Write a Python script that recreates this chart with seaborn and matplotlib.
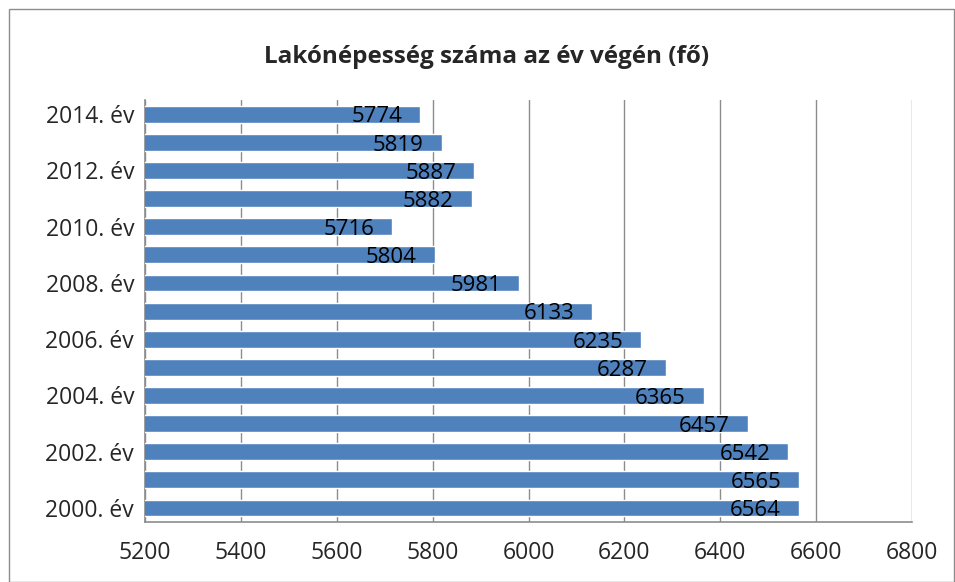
import pandas as pd
import matplotlib.pyplot as plt
import seaborn as sns
from matplotlib.patches import Rectangle

years = ['2014. év', '2013. év', '2012. év', '2011. év', '2010. év', '2009. év', '2008. év',
         '2007. év', '2006. év', '2005. év', '2004. év', '2003. év', '2002. év', '2001. év', '2000. év']
population = [5774, 5819, 5887, 5882, 5716, 5804, 5981, 6133, 6235, 6287, 6365, 6457, 6542, 6565, 6564]
x_ticks = [5200, 5400, 5600, 5800, 6000, 6200, 6400, 6600, 6800]

df = pd.DataFrame({'ev': years, 'fo': population})

sns.set_style('white')
plt.rcParams['font.family'] = ['Open Sans', 'DejaVu Sans']

fig = plt.figure(figsize=(9.55, 5.82), dpi=100)
ax = fig.add_axes([0.152, 0.103, 0.803, 0.725])

sns.barplot(data=df, x='fo', y='ev', orient='h', color='#4F81BD', saturation=1,
            width=0.6, ax=ax, zorder=3)

ax.set_xlim(5200, 6800)
ax.set_xticks(x_ticks)
ax.set_xticklabels([str(t) for t in x_ticks], fontsize=16.5)
ax.set_yticks(range(len(years)))
ax.set_yticklabels([y if i % 2 == 0 else '' for i, y in enumerate(years)], fontsize=16.5)
ax.tick_params(axis='both', length=0, pad=8)
ax.tick_params(axis='x', pad=14)
ax.set_xlabel('')
ax.set_ylabel('')
ax.grid(axis='x', color='#8c8c8c', linewidth=1, zorder=0)
for s in ['top', 'right']:
    ax.spines[s].set_visible(False)
for s in ['left', 'bottom']:
    ax.spines[s].set_color('#8c8c8c')
    ax.spines[s].set_linewidth(1.2)

# value labels just inside the bar ends, a bit below centre
for i, v in enumerate(population):
    ax.annotate(str(v), (v, i + 0.1), xytext=(-13, 0), textcoords='offset points',
                ha='right', va='center', fontsize=16, color='black', zorder=4)

fig.text(0.51, 0.902, 'Lakónépesség száma az év végén (fő)', ha='center', va='center',
         fontsize=17.5, fontweight='bold')

fig.patches.append(Rectangle((0.009, 0.0), 0.99, 0.985, transform=fig.transFigure,
                             fill=False, edgecolor='#8c8c8c', linewidth=1))

fig.savefig('out.png', dpi=100)
